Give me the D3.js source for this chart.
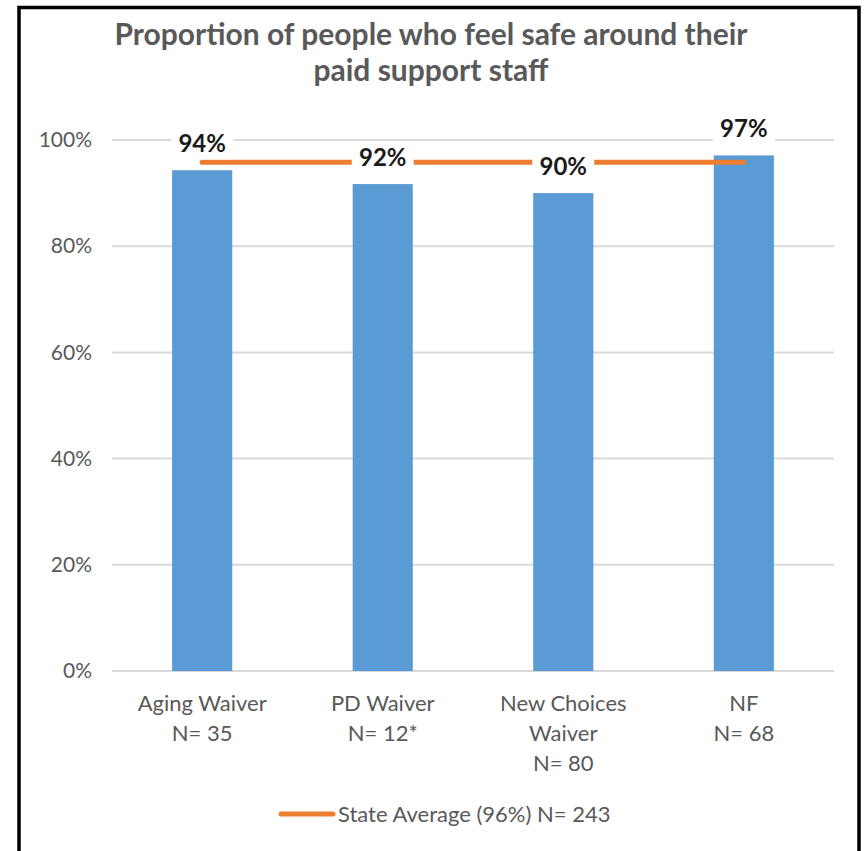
<!DOCTYPE html>
<html lang="en">
<head>
<meta charset="utf-8">
<title>Feel safe around paid support staff</title>
<script src="https://cdn.jsdelivr.net/npm/d3@7"></script>
<style>
  body { margin: 0; background: #fff; }
  text { font-family: Lato, "Open Sans", sans-serif; }
</style>
</head>
<body>
<script>
// data
var categories = [["Aging Waiver", "N= 35"], ["PD Waiver", "N= 12*"], ["New Choices", "Waiver", "N= 80"], ["NF", "N= 68"]];
var values = [0.943, 0.917, 0.90, 0.971];
var valueLabels = ["94%", "92%", "90%", "97%"];
var stateAvg = 0.958;
var legendText = "State Average (96%) N= 243";
var yTicks = [0, 0.2, 0.4, 0.6, 0.8, 1.0];
var titleLines = ["Proportion of people who feel safe around their", "paid support staff"];

var w = 867, h = 851;
var svg = d3.select("body").append("svg").attr("width", w).attr("height", h);

// frame
svg.append("rect").attr("x", 19).attr("y", 7.5).attr("width", 840).attr("height", 860)
   .attr("fill", "#fff").attr("stroke", "#000").attr("stroke-width", 3.5);

// title
svg.selectAll(".title").data(titleLines).enter().append("text")
   .attr("x", 431).attr("y", function(d, i) { return 45 + i * 36; })
   .attr("text-anchor", "middle").attr("font-size", 30).attr("font-weight", "bold")
   .attr("fill", "#595959").text(function(d) { return d; });

var x = d3.scaleBand().domain(d3.range(categories.length)).range([112, 834]).paddingInner(0.667).paddingOuter(0.333);
var y = d3.scaleLinear().domain([0, 1]).range([671, 140]);

// gridlines
svg.selectAll(".grid").data(yTicks).enter().append("line")
   .attr("x1", 112).attr("x2", 834)
   .attr("y1", function(d) { return y(d); }).attr("y2", function(d) { return y(d); })
   .attr("stroke", "#d9d9d9").attr("stroke-width", 2);

// y axis labels
var yAxis = d3.axisLeft(y).tickValues(yTicks).tickFormat(d3.format(".0%")).tickSize(0).tickPadding(0);
var gy = svg.append("g").attr("transform", "translate(92,0)").call(yAxis);
gy.select(".domain").remove();
gy.selectAll("text").attr("font-size", 21).attr("fill", "#595959").attr("font-family", "Lato, 'Open Sans', sans-serif");

// bars
svg.selectAll(".bar").data(values).enter().append("rect")
   .attr("x", function(d, i) { return x(i); })
   .attr("width", x.bandwidth())
   .attr("y", function(d) { return y(d); })
   .attr("height", function(d) { return y(0) - y(d); })
   .attr("fill", "#5b9bd5");

// state average line
var cx = function(i) { return x(i) + x.bandwidth() / 2; };
var avgLine = d3.line().x(function(d, i) { return cx(i); }).y(function() { return y(stateAvg); });
svg.append("path").datum(values).attr("d", avgLine)
   .attr("fill", "none").attr("stroke", "#ed7d31").attr("stroke-width", 5).attr("stroke-linecap", "round");

// value labels with white boxes
var lab = svg.selectAll(".lab").data(values).enter().append("g")
   .attr("transform", function(d, i) { return "translate(" + cx(i) + "," + (y(d) - 27) + ")"; });
lab.append("rect").attr("x", -31).attr("y", -16).attr("width", 62).attr("height", 32).attr("fill", "#fff");
lab.append("text").attr("text-anchor", "middle").attr("dy", "0.36em")
   .attr("font-size", 24).attr("font-weight", "bold").attr("fill", "#1a1a1a")
   .text(function(d, i) { return valueLabels[i]; });

// category labels
var cat = svg.selectAll(".cat").data(categories).enter().append("text")
   .attr("text-anchor", "middle").attr("font-size", 22).attr("fill", "#595959");
cat.selectAll("tspan").data(function(d, i) { return d.map(function(s) { return { s: s, i: i }; }); })
   .enter().append("tspan")
   .attr("x", function(d) { return cx(d.i); })
   .attr("y", function(d, j) { return 711 + j * 30; })
   .text(function(d) { return d.s; });

// legend
svg.append("line").attr("x1", 281).attr("x2", 333).attr("y1", 814).attr("y2", 814)
   .attr("stroke", "#ed7d31").attr("stroke-width", 5).attr("stroke-linecap", "round");
svg.append("text").attr("x", 338).attr("y", 822).attr("font-size", 22).attr("fill", "#595959").text(legendText);
</script>
</body>
</html>
